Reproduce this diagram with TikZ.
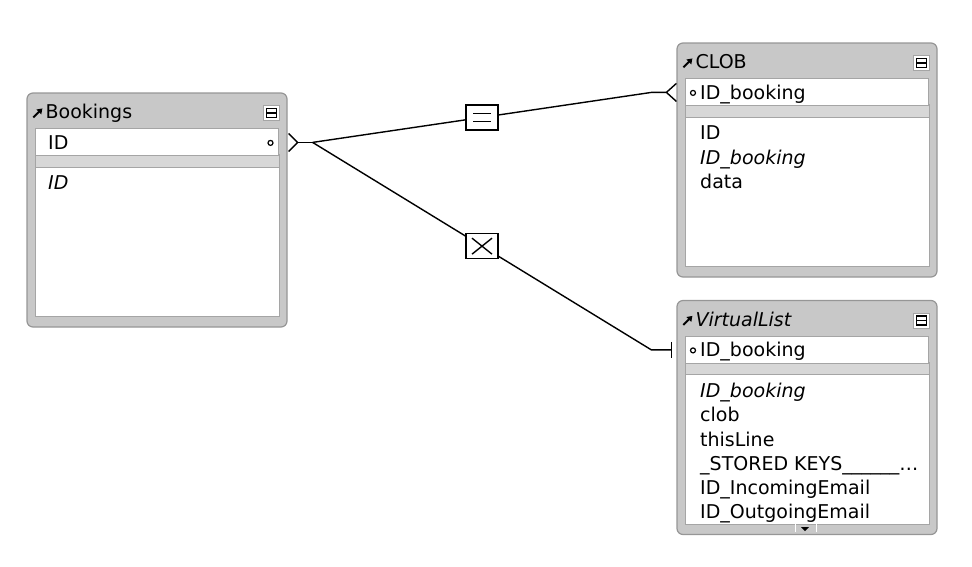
\documentclass[tikz,border=0pt]{standalone}
\usepackage{fontspec}
\setmainfont{DejaVu Sans}
\usetikzlibrary{arrows.meta,positioning}

\definecolor{framegray}{RGB}{200,200,200}
\definecolor{edgegray}{RGB}{150,150,150}
\definecolor{panelgray}{RGB}{165,165,165}
\definecolor{bandgray}{RGB}{215,215,215}

\tikzset{
  frame/.style={fill=framegray, draw=edgegray, line width=1.2pt, rounded corners=6pt,
    minimum width=260pt, minimum height=234pt, inner sep=0pt},
  panel/.style={fill=white, draw=panelgray, line width=1pt},
  band/.style={fill=bandgray, draw=panelgray, line width=0.8pt},
  keyrow/.style={panel, minimum width=243pt, minimum height=27pt, inner sep=0pt},
  field/.style={anchor=base west, inner sep=0pt},
  link/.style={line width=1.4pt},
  relbox/.style={draw, fill=white, line width=1.4pt, minimum width=32pt, minimum height=25pt, inner sep=0pt},
  eqbox/.style={relbox, path picture={
    \draw[line width=1.4pt] ([shift={(-9pt,4pt)}]path picture bounding box.center) -- ++(18pt,0pt);
    \draw[line width=1.4pt] ([shift={(-9pt,-4pt)}]path picture bounding box.center) -- ++(18pt,0pt);}},
  xbox/.style={relbox, path picture={
    \draw[line width=1.4pt] ([shift={(-10pt,8pt)}]path picture bounding box.center) -- ++(20pt,-16pt);
    \draw[line width=1.4pt] ([shift={(-10pt,-8pt)}]path picture bounding box.center) -- ++(20pt,16pt);}},
}

\begin{document}
\begin{tikzpicture}[x=1pt, y=-1pt, font=\fontsize{19}{24}\selectfont]
  % Rahmen wie im Original
  \useasboundingbox (0,0) rectangle (972,566);

  % Tabellen
  \node[frame] (bookings) at (157,210) {};
  \node[frame] (clob) at (807,160) {};
  \node[frame] (vlist) at (807,417.5) {};

  % Streifen, Feldbereich, Knopf und Pfeil je Tabelle
  \foreach \t in {bookings,clob,vlist} {
    \draw[band] ([shift={(9,62)}]\t.north west) rectangle ([shift={(-8,75)}]\t.north east);
    \draw[panel] ([shift={(9,75)}]\t.north west) rectangle ([shift={(-8,-11)}]\t.south east);
    \draw[fill=white, draw=panelgray] ([shift={(-24,13)}]\t.north east) rectangle ([shift={(-8,28)}]\t.north east);
    \draw[line width=1.3pt] ([shift={(-21,16)}]\t.north east) rectangle ([shift={(-11,25)}]\t.north east);
    \draw[line width=1.3pt] ([shift={(-21,20.5)}]\t.north east) -- ([shift={(-11,20.5)}]\t.north east);
    \draw[line width=2pt, -{Triangle[length=5pt, width=6.5pt]}] ([shift={(7,25)}]\t.north west) -- ([shift={(16,16)}]\t.north west);
  }

  % Schluesselzeilen
  \node[keyrow, below=36pt of bookings.north] (bookings-key) {};
  \node[keyrow, below=36pt of clob.north] (clob-key) {};
  \node[keyrow, below=36pt of vlist.north] (vlist-key) {};

  % Titel
  \node[field] (bookings-title) at ([shift={(19,26.5)}]bookings.north west) {Bookings};
  \node[field] (clob-title) at ([shift={(19,26.5)}]clob.north west) {CLOB};
  \node[field] (vlist-title) at ([shift={(19,26.5)}]vlist.north west) {\textit{VirtualList}};

  % Schluesselfelder
  \node[field] (bookings-ID) at ([shift={(13,21)}]bookings-key.north west) {ID};
  \node[field] (clob-ID) at ([shift={(15,21)}]clob-key.north west) {ID\_booking};
  \node[field] (vlist-ID) at ([shift={(15,21)}]vlist-key.north west) {ID\_booking};
  \draw[line width=1.2pt] ([shift={(-8.5,0.5)}]bookings-key.east) circle (2.5);
  \draw[line width=1.2pt] ([shift={(8,0.5)}]clob-key.west) circle (2.5);
  \draw[line width=1.2pt] ([shift={(8,0.5)}]vlist-key.west) circle (2.5);

  % Felder
  \node[field] (bookings-f1) at ([shift={(13,61.5)}]bookings-key.north west) {\textit{ID}};
  \foreach \f [count=\i, evaluate=\i as \yy using 61.5+(\i-1)*24.3] in {ID,{\textit{ID\_booking}},data}
    \node[field] (clob-f\i) at ([shift={(15,\yy)}]clob-key.north west) {\f};
  \foreach \f [count=\i, evaluate=\i as \yy using 61.5+(\i-1)*24.3] in {{\textit{ID\_booking}},clob,thisLine,{\_STORED KEYS\_\_\_\_\_\_…},ID\_IncomingEmail,ID\_OutgoingEmail}
    \node[field] (vlist-f\i) at ([shift={(15,\yy)}]vlist-key.north west) {\f};

  % Rollmarke unten
  \fill ([shift={(-6,-8)}]vlist.south) -- ([shift={(2,-8)}]vlist.south) -- ([shift={(-2,-4)}]vlist.south) -- cycle;
  \draw[white, line width=1pt] ([shift={(-12,-11)}]vlist.south) -- ([shift={(-12,-3)}]vlist.south);
  \draw[white, line width=1pt] ([shift={(9,-11)}]vlist.south) -- ([shift={(9,-3)}]vlist.south);

  % Beziehungen
  \coordinate (bookings-out) at (bookings.east |- bookings-key);
  \coordinate (clob-in) at (clob.west |- clob-key);
  \coordinate (vlist-in) at (vlist.west |- vlist-key);
  \coordinate (fork) at ([shift={(25,0)}]bookings-out);

  \draw[link] ([shift={(1,-9)}]bookings-out) -- ([shift={(10,0)}]bookings-out) -- ([shift={(1,9)}]bookings-out);
  \draw[link] ([shift={(10,0)}]bookings-out) -- (fork);

  \draw[link] (fork) -- node[eqbox] (rel-eq) {} ([shift={(-25,0)}]clob-in) -- ([shift={(-10,0)}]clob-in);
  \draw[link] ([shift={(0,-9)}]clob-in) -- ([shift={(-10,0)}]clob-in) -- ([shift={(0,9)}]clob-in);

  \draw[link] (fork) -- node[xbox] (rel-x) {} ([shift={(-25,0)}]vlist-in) -- ([shift={(-5,0)}]vlist-in);
  \draw[link] ([shift={(-5,-8)}]vlist-in) -- ([shift={(-5,8)}]vlist-in);
\end{tikzpicture}
\end{document}
